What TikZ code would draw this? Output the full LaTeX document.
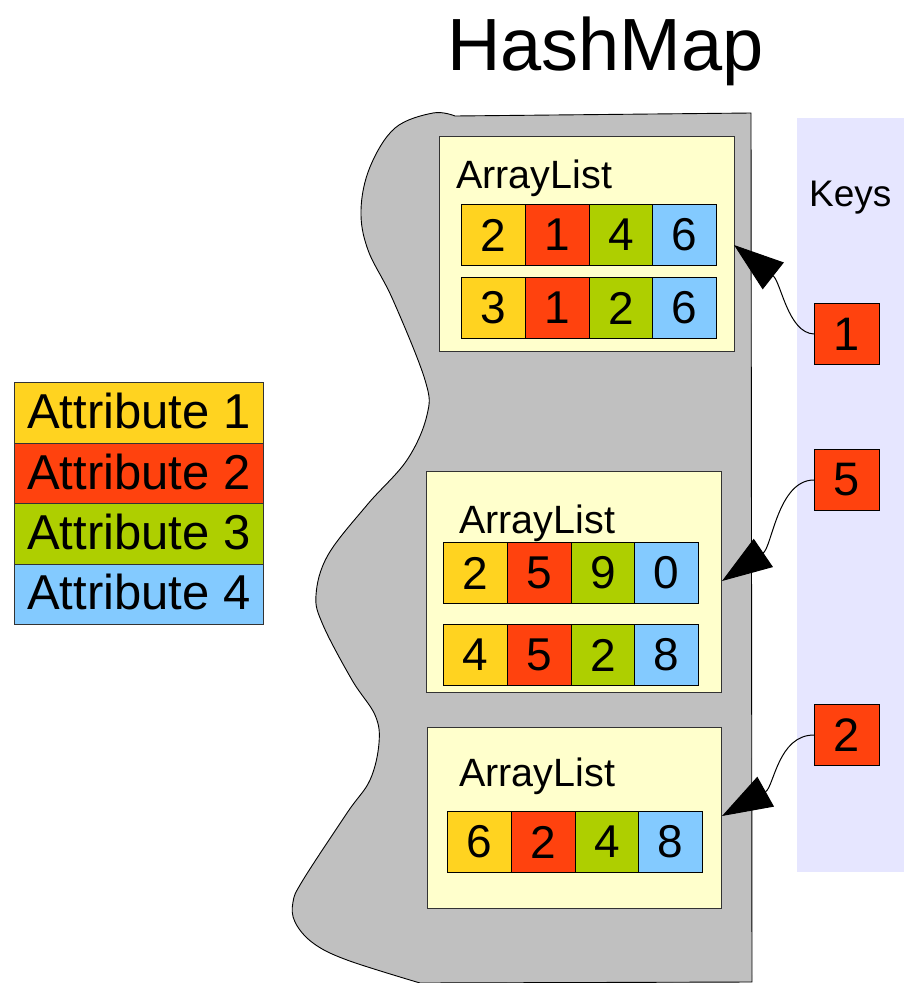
\documentclass[tikz,border=0pt]{standalone}
\usepackage{fontspec}
\setmainfont{Liberation Sans}
\usetikzlibrary{arrows.meta}
\definecolor{cyel}{HTML}{FFD320}
\definecolor{cred}{HTML}{FF420E}
\definecolor{cgrn}{HTML}{AECF00}
\definecolor{cblu}{HTML}{83CAFF}
\definecolor{cgray}{HTML}{C0C0C0}
\definecolor{cpale}{HTML}{FFFFCC}
\definecolor{ckeys}{HTML}{E6E6FF}
\definecolor{cedge}{HTML}{333333}
\tikzset{
  cell/.style={draw=black, line width=1pt, minimum width=63.75pt, minimum height=61pt, inner sep=0pt, anchor=north west, font=\fontsize{46}{46}\selectfont},
  listbox/.style={draw=cedge, fill=cpale, line width=1pt, inner sep=0pt, anchor=north west},
  listlabel/.style={anchor=base west, inner sep=0pt, font=\fontsize{39.5}{40}\selectfont},
  legrow/.style={draw=cedge, line width=1pt, minimum width=249pt, minimum height=60.5pt, inner sep=0pt, anchor=north west},
  legtext/.style={anchor=base west, inner sep=0pt, font=\fontsize{49}{49}\selectfont},
  keybox/.style={draw=black, fill=cred, line width=1pt, minimum width=65pt, minimum height=61pt, inner sep=0pt, anchor=north west, font=\fontsize{47}{47}\selectfont},
  conn/.style={line width=1pt, -{Triangle[length=50pt,width=34pt]}}
}
\begin{document}
\begin{tikzpicture}[x=1pt,y=-1pt]
\useasboundingbox (0,0) rectangle (904,983);
% keys panel
\fill[ckeys] (797,118) rectangle (904,872);
% hashmap blob
\filldraw[fill=cgray, draw=black, line width=0.9pt]
  (455,116) -- (751,113) -- (752,982) -- (420,983)
  -- plot[smooth, tension=0.6] coordinates {(420,983) (347,960) (313,943) (295,922) (293,902) (303,880) (347,813) (370,780) (379,743) (375,715) (352,680) (323,625) (316,595) (328,555) (367,505) (407,460) (427,415) (425,380) (393,300) (368,250) (361,210) (370,167) (395,128) (433,113) (455,116)}
  -- cycle;
% title
\node[anchor=base west, inner sep=0pt, font=\fontsize{74}{74}\selectfont] (title) at (447,70) {HashMap};
% list boxes
\node[listbox, minimum width=295pt, minimum height=215pt] (box1) at (439,136) {};
\node[listbox, minimum width=295pt, minimum height=221pt] (box2) at (426,471) {};
\node[listbox, minimum width=294pt, minimum height=181pt] (box3) at (427,727) {};
\node[listlabel] (lab1) at (456,188) {ArrayList};
\node[listlabel] (lab2) at (459,533) {ArrayList};
\node[listlabel] (lab3) at (459,786) {ArrayList};
% rows of cells
\foreach \rn/\x/\y/\a/\b/\c/\d in {a/461/204/2/1/4/6, b/461/277/3/1/2/6, c/443/542/2/5/9/0, d/443/624/4/5/2/8, e/447/811/6/2/4/8}{
  \node[cell, fill=cyel] (\rn1) at (\x,\y) {\a};
  \node[cell, fill=cred] (\rn2) at (\x+63.75,\y) {\b};
  \node[cell, fill=cgrn] (\rn3) at (\x+127.5,\y) {\c};
  \node[cell, fill=cblu] (\rn4) at (\x+191.25,\y) {\d};
}
% legend
\node[legrow, fill=cyel] (leg1) at (14,382) {};
\node[legrow, fill=cred] (leg2) at (14,442.5) {};
\node[legrow, fill=cgrn] (leg3) at (14,503) {};
\node[legrow, fill=cblu] (leg4) at (14,563.5) {};
\node[legtext] (lt1) at (27,428) {Attribute 1};
\node[legtext] (lt2) at (27,489) {Attribute 2};
\node[legtext] (lt3) at (27,549) {Attribute 3};
\node[legtext] (lt4) at (27,609) {Attribute 4};
% keys
\node[anchor=base west, inner sep=0pt, font=\fontsize{37}{37}\selectfont] (keys) at (809,206) {Keys};
\node[keybox] (k1) at (814,303) {1};
\node[keybox] (k5) at (814,449) {5};
\node[keybox] (k2) at (814,704) {2};
% arrow targets
\coordinate (t1) at (734,245);
\coordinate (t5) at (722,581);
\coordinate (t2) at (722,816);
\draw[conn] (k1.west) .. controls (788,333) and (781,282) .. (t1);
\draw[conn] (k5.west) .. controls (778,480) and (772,547) .. (t5);
\draw[conn] (k2.west) .. controls (778,735) and (774,787) .. (t2);
\end{tikzpicture}
\end{document}
